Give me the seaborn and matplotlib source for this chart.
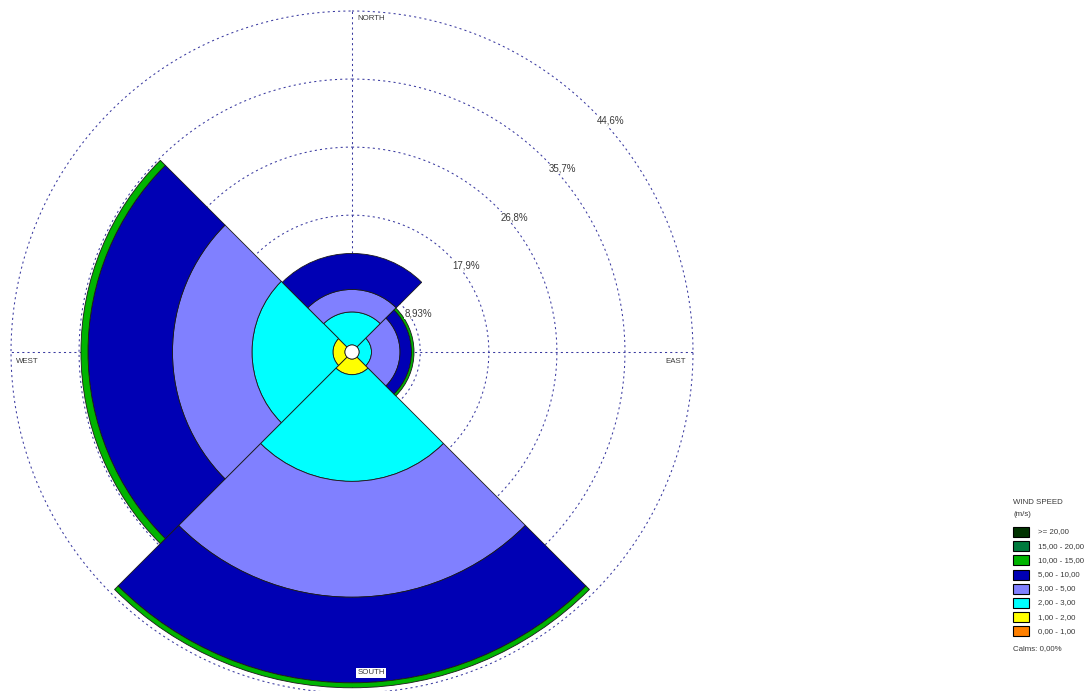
import numpy as np
import matplotlib
matplotlib.use("Agg")
import matplotlib.pyplot as plt
from matplotlib.patches import Rectangle
import seaborn as sns

# ---------------- data ----------------
directions = ["NORTH", "EAST", "SOUTH", "WEST"]
dir_angles_deg = [0, 90, 180, 270]

speed_classes = ["0,00 - 1,00", "1,00 - 2,00", "2,00 - 3,00", "3,00 - 5,00",
                 "5,00 - 10,00", "10,00 - 15,00", "15,00 - 20,00", ">= 20,00"]
class_colors = ["#FF8000", "#FFFF00", "#00FFFF", "#8080FF",
                "#0000B4", "#00B400", "#007A3D", "#003300"]

# frequency (%) per class, order N, E, S, W
f_0_1 = [0.00, 0.00, 0.00, 0.00]
f_1_2 = [0.00, 0.00, 2.05, 1.57]
f_2_3 = [4.32, 1.63, 13.95, 10.59]
f_3_5 = [2.94, 3.73, 15.15, 10.40]
f_5_10 = [4.71, 1.50, 11.20, 11.05]
f_10_15 = [0.00, 0.33, 0.65, 0.92]
f_15_20 = [0.00, 0.00, 0.00, 0.00]
f_20 = [0.00, 0.00, 0.00, 0.00]
class_freqs = [f_0_1, f_1_2, f_2_3, f_3_5, f_5_10, f_10_15, f_15_20, f_20]

ring_values = [8.93, 17.9, 26.8, 35.7, 44.6]
ring_labels = ["8,93%", "17,9%", "26,8%", "35,7%", "44,6%"]
calms_text = "Calms: 0,00%"

# ---------------- style ----------------
sns.set_theme(style="white")
plt.rcParams["font.family"] = ["Liberation Sans", "DejaVu Sans"]
FS_RING = 7
FS = 5.7
TXT_C = "#3a3a3a"
GRID_C = "#3a3aa0"
CALM_R = 0.92  # radius of calm circle (in % units)

W, H = 1091, 691
fig = plt.figure(figsize=(W / 100, H / 100), dpi=100)
fig.patch.set_facecolor("white")

cx, cy, R = 352, 352, 341
ax = fig.add_axes([(cx - R) / W, (H - cy - R) / H, 2 * R / W, 2 * R / H],
                  projection="polar")
ax.set_theta_zero_location("N")
ax.set_theta_direction(-1)
ax.set_ylim(0, ring_values[-1])
ax.set_axis_off()

# grid rings and radial lines
tt = np.linspace(0, 2 * np.pi, 720)
gls = (0, (2.0, 3.0))
for rv in ring_values:
    ax.plot(tt, np.full_like(tt, rv), color=GRID_C, lw=0.75,
            ls=gls, zorder=1, clip_on=False)
for a in dir_angles_deg:
    ax.plot([np.deg2rad(a)] * 2, [0, ring_values[-1]], color=GRID_C, lw=0.75,
            ls=gls, zorder=1, clip_on=False)

# stacked sectors
theta = np.deg2rad(dir_angles_deg)
width = np.pi / 2
bottom = np.full(len(directions), CALM_R)
for vals, col in zip(class_freqs, class_colors):
    vals = np.asarray(vals, dtype=float)
    m = vals > 0
    if m.any():
        ax.bar(theta[m], vals[m], width=width, bottom=bottom[m], color=col,
               edgecolor="#1a1a1a", linewidth=0.6, align="center", zorder=3)
    bottom = bottom + vals

# calm circle
ax.fill(tt, np.full_like(tt, CALM_R), facecolor="white",
        edgecolor="#1a1a1a", linewidth=0.6, zorder=4)

# ring labels
for rv, lab in zip(ring_values, ring_labels):
    ax.annotate(lab, xy=(np.pi / 4, rv), xytext=(4, -5),
                textcoords="offset pixels", ha="left", va="top",
                fontsize=FS_RING, color=TXT_C, zorder=5, annotation_clip=False,
                bbox=dict(boxstyle="square,pad=0.05", fc="white", ec="none"))

def ftxt(x, y, s, **kw):
    fig.text(x / W, 1 - y / H, s, fontsize=FS, color=TXT_C, **kw)

# direction labels
ftxt(357, 19, directions[0], ha="left", va="center")
ftxt(665, 362, directions[1], ha="left", va="center")
ftxt(371, 673, directions[2], ha="center", va="center", zorder=6,
     bbox=dict(boxstyle="square,pad=0.2", fc="white", ec="none"))
ftxt(16, 362, directions[3], ha="left", va="center")

# legend
ftxt(1013, 502, "WIND SPEED", ha="left", va="center")
ftxt(1013, 514, "(m/s)", ha="left", va="center")
top0, step, bw, bh = 527, 14.2, 16, 10
for i, (lab, col) in enumerate(zip(speed_classes[::-1], class_colors[::-1])):
    top = top0 + i * step
    fig.add_artist(Rectangle((1013 / W, 1 - (top + bh) / H), bw / W, bh / H,
                             transform=fig.transFigure, facecolor=col,
                             edgecolor="black", linewidth=0.8))
    ftxt(1038, top + bh / 2, lab, ha="left", va="center")
ftxt(1013, 649, calms_text, ha="left", va="center")

fig.savefig("out.png", dpi=100, facecolor="white")
